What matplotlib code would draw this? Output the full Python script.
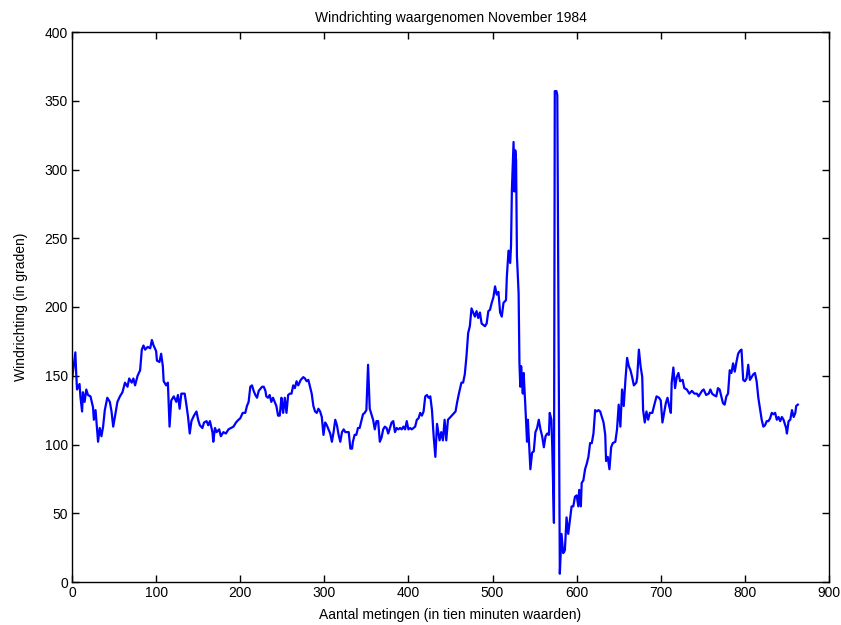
import matplotlib
matplotlib.use("Agg")
import matplotlib.pyplot as plt

# sample index (ten-minute readings) and wind direction in degrees
idx = [0, 4, 5, 6, 9, 10, 12, 13, 15, 17, 19, 22, 25, 26, 28, 31, 33, 35, 37, 39,
       42, 45, 47, 49, 51, 54, 57, 60, 63, 66, 68, 71, 73, 75, 78, 81, 83, 85, 87, 90,
       93, 95, 97, 100, 101, 104, 106, 108, 109, 112, 114, 116, 118, 121, 124, 126, 128, 130, 134, 136,
       138, 140, 142, 145, 148, 150, 152, 155, 157, 160, 162, 164, 167, 168, 170, 172, 175, 177, 180, 183,
       186, 189, 192, 195, 198, 200, 203, 206, 208, 210, 212, 214, 216, 218, 220, 222, 226, 228, 230, 231,
       233, 235, 237, 239, 241, 243, 245, 247, 249, 250, 251, 253, 255, 257, 259, 261, 263, 265, 267, 269,
       272, 275, 277, 279, 281, 283, 285, 287, 289, 291, 293, 295, 297, 299, 301, 303, 305, 307, 309, 311,
       313, 315, 317, 319, 321, 323, 325, 327, 329, 331, 333, 334, 336, 338, 340, 342, 344, 346, 348, 350,
       352, 354, 356, 358, 360, 362, 364, 366, 368, 370, 372, 374, 376, 378, 380, 382, 384, 386, 388, 390,
       392, 394, 396, 398, 400, 402, 404, 406, 408, 410, 412, 414, 416, 418, 420, 422, 424, 426, 428, 430,
       432, 434, 437, 439, 441, 443, 445, 447, 450, 453, 456, 458, 460, 463, 465, 467, 469, 471, 473, 475,
       477, 479, 481, 483, 485, 487, 489, 491, 493, 495, 497, 499, 501, 503, 505, 507, 509, 511, 513, 516,
       517, 519, 521, 522, 523, 525, 526, 527, 528, 529, 531, 532, 533, 534, 536, 537, 539, 541, 542, 545,
       547, 549, 551, 553, 555, 557, 559, 561, 563, 565, 567, 568, 570, 571, 573, 574, 576, 577, 580, 582,
       584, 586, 588, 590, 592, 594, 596, 598, 600, 602, 603, 605, 606, 608, 610, 612, 614, 616, 618, 620,
       622, 624, 626, 628, 630, 632, 634, 635, 637, 639, 641, 643, 646, 648, 650, 652, 654, 656, 658, 660,
       662, 664, 666, 668, 671, 672, 674, 676, 678, 679, 681, 683, 685, 687, 690, 692, 695, 698, 700, 702,
       704, 706, 708, 710, 712, 713, 715, 717, 719, 721, 723, 726, 728, 731, 734, 737, 740, 743, 745, 749,
       751, 754, 757, 759, 761, 763, 766, 768, 770, 772, 774, 776, 778, 780, 782, 784, 786, 788, 790, 792,
       794, 796, 798, 800, 802, 804, 806, 808, 810, 812, 814, 816, 818, 820, 822, 824, 826, 828, 830, 832,
       834, 836, 838, 840, 842, 844, 846, 848, 849, 850, 852, 854, 856, 858, 860, 861, 863]

wind = [147, 167, 152, 140, 144, 135, 124, 138, 131, 140, 136, 135, 127, 118, 125, 102, 112, 106, 113, 125,
        134, 131, 124, 113, 120, 131, 135, 138, 145, 142, 148, 145, 148, 143, 150, 154, 169, 172, 169, 171,
        170, 176, 172, 168, 161, 160, 166, 157, 146, 143, 145, 113, 132, 135, 131, 136, 126, 137, 137, 129,
        120, 108, 117, 121, 124, 118, 114, 112, 116, 117, 114, 117, 109, 102, 112, 109, 111, 106, 109, 108,
        111, 112, 113, 116, 118, 119, 123, 123, 128, 131, 142, 143, 139, 136, 134, 139, 142, 142, 139, 135,
        134, 136, 131, 134, 131, 128, 121, 121, 134, 128, 123, 134, 123, 136, 137, 137, 143, 141, 146, 143,
        147, 149, 148, 146, 147, 142, 137, 128, 124, 123, 126, 124, 120, 107, 116, 114, 111, 108, 102, 109,
        118, 114, 107, 102, 109, 111, 109, 109, 109, 97, 97, 102, 107, 107, 112, 112, 117, 122, 123, 125,
        158, 126, 122, 118, 111, 117, 117, 102, 105, 111, 113, 112, 108, 112, 116, 117, 109, 112, 111, 112,
        111, 113, 111, 117, 111, 112, 111, 112, 113, 118, 119, 123, 121, 124, 135, 136, 134, 135, 125, 106,
        91, 115, 103, 109, 103, 118, 103, 118, 120, 122, 124, 131, 137, 145, 145, 151, 164, 181, 186, 199,
        196, 193, 197, 192, 196, 188, 187, 186, 188, 197, 198, 203, 207, 215, 209, 211, 196, 193, 203, 205,
        222, 241, 232, 245, 285, 320, 284, 314, 307, 237, 210, 159, 142, 157, 137, 152, 128, 102, 118, 82,
        94, 95, 109, 112, 118, 111, 106, 98, 106, 108, 107, 123, 118, 98, 43, 357, 357, 354, 6, 35,
        21, 23, 47, 35, 45, 55, 55, 62, 63, 55, 67, 55, 72, 74, 82, 86, 91, 101, 101, 108,
        125, 124, 125, 124, 120, 116, 107, 88, 91, 82, 98, 101, 102, 111, 129, 113, 140, 128, 147, 163,
        157, 154, 149, 143, 145, 149, 169, 157, 149, 125, 116, 124, 118, 123, 123, 128, 135, 134, 132, 116,
        123, 130, 134, 128, 123, 145, 156, 141, 149, 152, 146, 147, 141, 140, 137, 139, 137, 137, 135, 139,
        140, 136, 137, 140, 137, 136, 135, 141, 140, 135, 130, 129, 135, 137, 154, 152, 159, 153, 160, 166,
        168, 169, 147, 146, 148, 158, 147, 149, 151, 152, 146, 134, 126, 118, 113, 114, 117, 117, 119, 123,
        122, 123, 118, 120, 117, 120, 118, 114, 112, 108, 117, 118, 125, 120, 123, 128, 129]

plt.rcParams['font.family'] = ['Liberation Sans', 'DejaVu Sans']

fig = plt.figure(figsize=(8.41, 6.25), dpi=100)
ax = fig.add_axes([0.0856, 0.0688, 0.9001, 0.88])
ax.plot(idx, wind, color=(0, 0, 1), linewidth=1.6)

ax.set_xlim(0, 900)
ax.set_ylim(0, 400)
ax.set_xticks(range(0, 901, 100))
ax.set_yticks(range(0, 401, 50))
ax.tick_params(direction='in', top=True, right=True, length=5, width=1, labelsize=10, pad=3)
for s in ax.spines.values():
    s.set_linewidth(1)

ax.set_title("Windrichting waargenomen November 1984", fontsize=10, pad=7)
ax.set_xlabel("Aantal metingen (in tien minuten waarden)", fontsize=10, labelpad=6)
ax.set_ylabel("Windrichting (in graden)", fontsize=10, labelpad=12)

fig.savefig("out.png", dpi=100)
